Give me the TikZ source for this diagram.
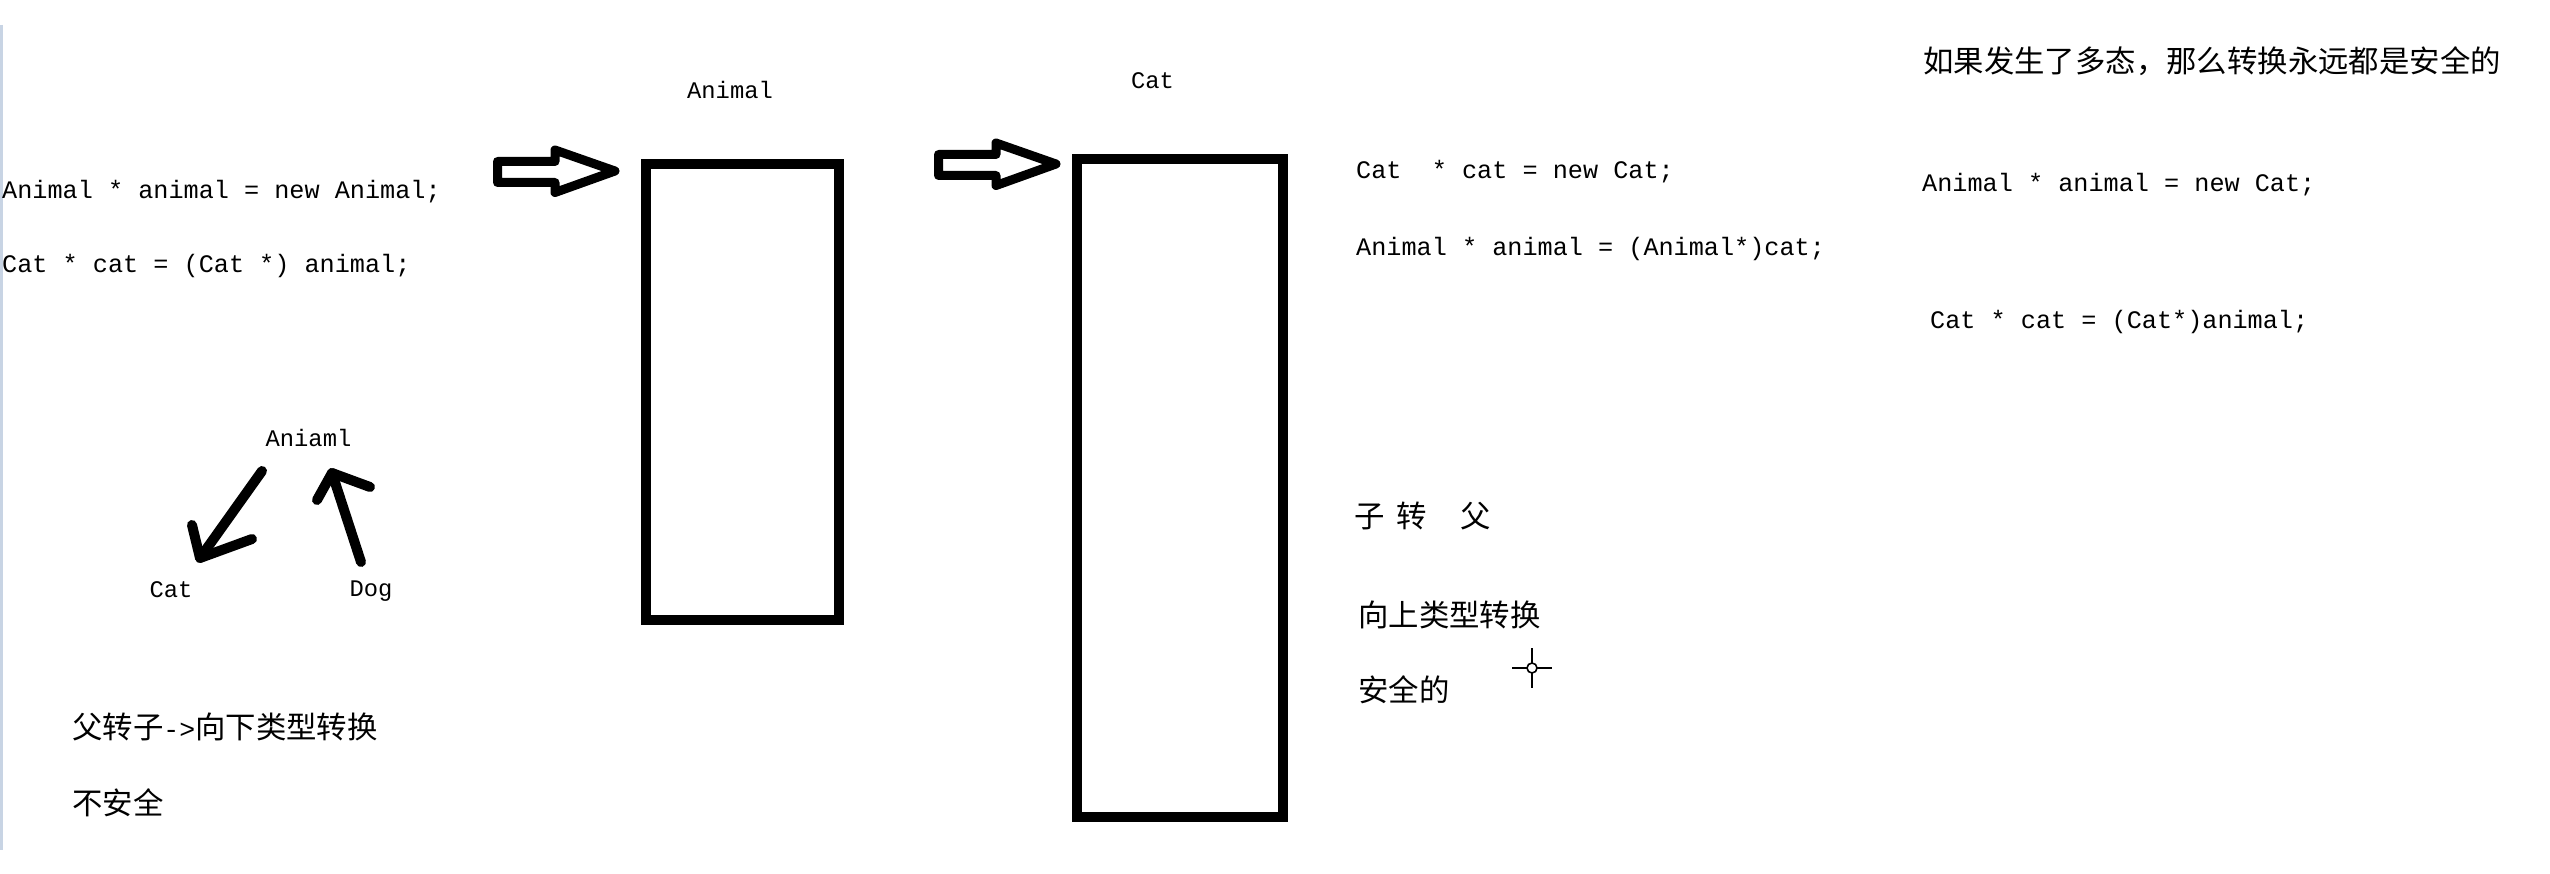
\documentclass[tikz,border=0pt]{standalone}
\usepackage{fontspec}
\newfontfamily\codefont{Liberation Mono}
\newfontfamily\cjkfont{Noto Sans CJK SC}
\definecolor{edgeblue}{RGB}{200,212,228}
\begin{document}
\begin{tikzpicture}[x=1pt,y=-1pt,
  code/.style={font=\codefont\fontsize{25.2}{30}\selectfont, inner sep=0pt, anchor=base west},
  lbl/.style={font=\codefont\fontsize{23.8}{28}\selectfont, inner sep=0pt, anchor=base},
  cjk/.style={font=\cjkfont\fontsize{30.4}{36}\selectfont, inner sep=0pt, anchor=west},
  memblock/.style={draw=black, line width=10pt, fill=white, inner sep=0pt},
  barrow/.style={draw=black, line width=9pt, line join=round, fill=white},
  handarrow/.style={draw=black, line width=10pt, line cap=round, line join=round},
  blockarrow/.pic={\path[barrow] (-117.5,-9.5) -- (-60,-9.5) -- (-60,-21) -- (0,0) -- (-60,21.5) -- (-60,11.5) -- (-117.5,11.5) -- cycle;}
]
\useasboundingbox[fill=white] (0,0) rectangle (2550,874);
% faint left edge of the screenshot
\draw[edgeblue, line width=3pt] (1.5,25) -- (1.5,850);

% memory blocks
\node[memblock, minimum width=193pt, minimum height=456pt] (boxA) at (742.5,392) {};
\node[memblock, minimum width=206pt, minimum height=658pt] (boxC) at (1180,488) {};
\node[lbl] (labA) at (730,99) {Animal};
\node[lbl] (labC) at (1152.5,89) {Cat};

% block arrows pointing at the blocks
\coordinate (tipA) at (615,171);
\coordinate (tipC) at (1056,164);
\pic at (tipA) {blockarrow};
\pic at (tipC) {blockarrow};

% code, left
\node[code] (c1) at (2,199) {Animal * animal = new Animal;};
\node[code] (c2) at (2,273) {Cat * cat = (Cat *) animal;};
% code, middle
\node[code] (c3) at (1356,179) {Cat\ \ * cat = new Cat;};
\node[code] (c4) at (1356,256) {Animal * animal = (Animal*)cat;};
% code, right
\node[code] (c5) at (1922,192) {Animal * animal = new Cat;};
\node[code] (c6) at (1930,329) {Cat * cat = (Cat*)animal;};

% small hierarchy sketch
\node[lbl] (nan) at (308.5,446) {Aniaml};
\node[lbl] (ncat) at (171,597) {Cat};
\node[lbl] (ndog) at (371,596) {Dog};
\coordinate (h1s) at (262,471);
\coordinate (h1t) at (200,558);
\coordinate (h1a) at (192,525);
\coordinate (h1b) at (252,539);
\draw[handarrow] (h1s) -- (h1t);
\draw[handarrow] (h1a) -- (h1t) -- (h1b);
\coordinate (h2s) at (361,562);
\coordinate (h2t) at (332,473);
\coordinate (h2a) at (317,500);
\coordinate (h2b) at (370,487);
\draw[handarrow] (h2s) -- (h2t);
\draw[handarrow] (h2a) -- (h2t) -- (h2b);

% Chinese notes
\node[cjk] (t1) at (1923,61) {如果发生了多态，那么转换永远都是安全的};
\node[cjk] (t2) at (1354,516) {\spaceskip=11.5pt 子 转\hspace{22pt} 父};
\node[cjk] (t3) at (1358,615) {向上类型转换};
\node[cjk] (t4) at (1358,690) {安全的};
\node[cjk] (t5) at (72,727) {父转子{\codefont\fontsize{26.5}{30}\selectfont ->}向下类型转换};
\node[cjk] (t6) at (72,803) {不安全};

% mouse cursor crosshair
\coordinate (cur) at (1532,668);
\draw[line width=1.6pt] (cur) circle[radius=5pt];
\draw[line width=1.6pt] (cur) ++(-20,0) -- ++(15,0);
\draw[line width=1.6pt] (cur) ++(5,0) -- ++(15,0);
\draw[line width=1.6pt] (cur) ++(0,-20) -- ++(0,15);
\draw[line width=1.6pt] (cur) ++(0,5) -- ++(0,15);
\end{tikzpicture}
\end{document}
